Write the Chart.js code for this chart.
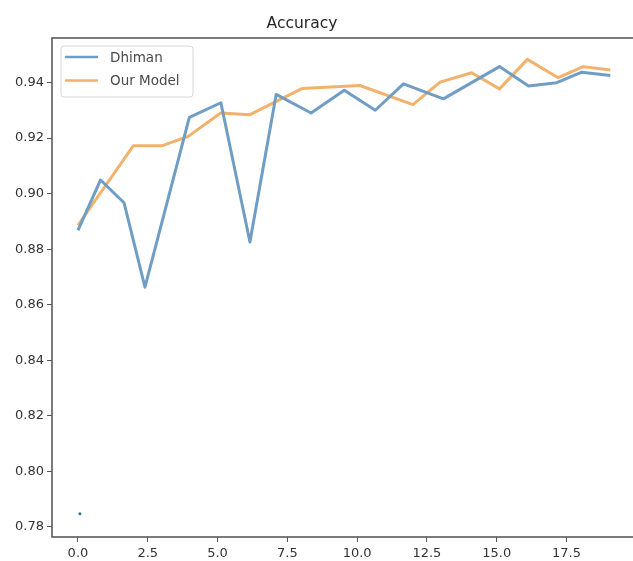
<!DOCTYPE html>
<html>
<head>
<meta charset="utf-8">
<title>Accuracy</title>
<script src="https://cdn.jsdelivr.net/npm/chart.js@4.4.0/dist/chart.umd.min.js"></script>
<style>
	html, body { margin: 0; padding: 0; background: #fff; overflow: hidden; }
	#wrap { width: 640px; height: 561px; }
</style>
</head>
<body>
<div id="wrap"><canvas id="accChart" width="640" height="561"></canvas></div>
<script>
// accuracy per epoch for both models
const dhimanX = [0, 0.81, 1.65, 2.4, 3.99, 5.12, 6.16, 7.1, 8.35, 9.54, 10.65, 11.66, 13.09, 15.1, 16.14, 17.15, 18.05, 19.07];
const dhimanY = [0.8868, 0.9049, 0.8967, 0.8663, 0.9274, 0.9327, 0.8826, 0.9357, 0.929, 0.9372, 0.93, 0.9395, 0.9341, 0.9457, 0.9387, 0.9399, 0.9437, 0.9425];

const ourX = [0, 1.98, 3.0, 3.95, 5.11, 6.16, 8.02, 10.1, 12.0, 12.97, 14.1, 15.1, 16.1, 17.2, 18.1, 19.07];
const ourY = [0.8886, 0.9172, 0.9172, 0.9206, 0.929, 0.9284, 0.9378, 0.9389, 0.932, 0.9401, 0.9435, 0.9377, 0.9483, 0.9417, 0.9457, 0.9445];

// lone point near the bottom left
const strayX = [0.07];
const strayY = [0.7848];

const seriesLabels = ["Dhiman", "Our Model"];
const chartTitle = "Accuracy";

const toPoints = (xs, ys) => xs.map((x, i) => ({ x: x, y: ys[i] }));

const FONT = "'DejaVu Sans', sans-serif";

// frame, title and boxed legend drawn on top of the chart
const decorations = {
	id: "decorations",
	afterDraw(chart) {
		const { ctx, chartArea } = chart;
		ctx.save();

		ctx.strokeStyle = "#5a5a5a";
		ctx.lineWidth = 1.6;
		ctx.strokeRect(chartArea.left, chartArea.top, chartArea.right - chartArea.left, chartArea.bottom - chartArea.top);

		ctx.fillStyle = "#262626";
		ctx.font = "15.5px " + FONT;
		ctx.textAlign = "center";
		ctx.textBaseline = "alphabetic";
		ctx.fillText(chartTitle, 302, 28);

		const bx = chartArea.left + 9, by = chartArea.top + 8, bw = 132, bh = 51;
		ctx.beginPath();
		ctx.roundRect(bx, by, bw, bh, 3);
		ctx.fillStyle = "rgba(255,255,255,0.85)";
		ctx.fill();
		ctx.strokeStyle = "#d6d6d6";
		ctx.lineWidth = 1;
		ctx.stroke();

		ctx.font = "13.5px " + FONT;
		ctx.textAlign = "left";
		ctx.textBaseline = "middle";
		chart.data.datasets.slice(0, 2).forEach((ds, i) => {
			const ly = by + 11 + i * 23.5;
			ctx.strokeStyle = ds.borderColor;
			ctx.lineWidth = 2.5;
			ctx.beginPath();
			ctx.moveTo(bx + 4, ly);
			ctx.lineTo(bx + 37, ly);
			ctx.stroke();
			ctx.fillStyle = "#4a4a4a";
			ctx.fillText(ds.label, bx + 49, ly + 1);
		});

		ctx.restore();
	},
};

new Chart(document.getElementById("accChart"), {
	type: "line",
	data: {
		datasets: [
			{
				label: seriesLabels[0],
				data: toPoints(dhimanX, dhimanY),
				borderColor: "#6f9dc4",
				borderWidth: 3,
				borderJoinStyle: "round",
				tension: 0,
				pointRadius: 0,
				fill: false,
			},
			{
				label: seriesLabels[1],
				data: toPoints(ourX, ourY),
				borderColor: "#f2b26c",
				borderWidth: 3,
				borderJoinStyle: "round",
				tension: 0,
				pointRadius: 0,
				fill: false,
			},
			{
				label: "",
				data: toPoints(strayX, strayY),
				showLine: false,
				pointRadius: 1.5,
				pointBorderWidth: 0,
				pointBackgroundColor: "#2f6f86",
				borderColor: "#2f6f86",
			},
		],
	},
	options: {
		responsive: false,
		animation: false,
		devicePixelRatio: 1,
		layout: { padding: { top: 38, right: 4, left: 0, bottom: 0 } },
		plugins: {
			legend: { display: false },
			title: { display: false },
			tooltip: { enabled: false },
		},
		scales: {
			x: {
				type: "linear",
				min: -0.93,
				max: 19.99,
				afterFit: scale => { scale.height = 24; },
				border: { display: false },
				grid: { drawOnChartArea: false, drawTicks: true, tickLength: 5, color: "#555", lineWidth: 1 },
				ticks: {
					stepSize: 2.5,
					includeBounds: false,
					padding: 4,
					color: "#333",
					font: { family: FONT, size: 13 },
					maxRotation: 0,
					callback: v => v.toFixed(1),
				},
			},
			y: {
				min: 0.7764,
				max: 0.956,
				afterFit: scale => { scale.width = 52; },
				border: { display: false },
				grid: { drawOnChartArea: false, drawTicks: true, tickLength: 5, color: "#555", lineWidth: 1 },
				ticks: {
					stepSize: 0.02,
					includeBounds: false,
					padding: 3,
					color: "#333",
					font: { family: FONT, size: 13 },
					callback: v => v.toFixed(2),
				},
			},
		},
	},
	plugins: [decorations],
});
</script>
</body>
</html>
